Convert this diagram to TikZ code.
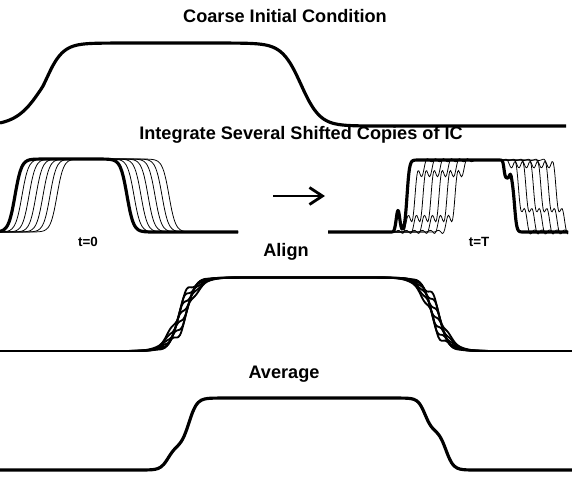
\documentclass[tikz,border=0pt]{standalone}
\usepackage{fontspec}
\setmainfont{Liberation Sans}
\usetikzlibrary{arrows.meta, calc, positioning}

\definecolor{ink}{HTML}{000000}

\tikzset{
    declare function={
        st(\uu)=0.5*(1+tanh(max(-4,min(4,\uu))));
        bump(\uu)=exp(-min(9,(\uu)*(\uu)));
    },
    bold curve/.style={draw=ink, line width=4.5pt, line join=round},
    thin curve/.style={draw=ink, line width=1.1pt},
    braid curve/.style={draw=ink, line width=2.6pt},
    title/.style={font=\fontsize{25.8}{30}\selectfont\bfseries, text=ink},
    stamp/.style={font=\fontsize{19}{23}\selectfont\bfseries, text=ink}
}

\begin{document}
\begin{tikzpicture}[x=0.5mm, y=-0.5mm]
    \useasboundingbox (0,0) rectangle (572,476);

    % coarse initial condition
    \node[title] (coarse title) at (285,16) {Coarse Initial Condition};
    \draw[bold curve] plot[smooth, domain=0:566, samples=120]
        (\x, {126 - 83*(st((\x-44)/(22.5-4.5*sign(\x-44))) - st((\x-301)/19))});

    % shifted copies, t=0
    \node[title] (integrate title) at (301,135) {Integrate Several Shifted Copies of IC};
    \foreach \k in {1,...,6}{
        \draw[thin curve] plot[smooth, domain=0:238, samples=120]
            (\x, {232 - 73*(st((\x-15-7*\k)/6.5) - st((\x-127-7*\k)/6.5))});
    }
    \draw[bold curve] plot[smooth, domain=0:238, samples=120]
        (\x, {232 - 73*(st((\x-15)/6.5) - st((\x-127)/6.5))});
    \node[stamp] (t0 label) at (88,242) {t=0};

    \coordinate (arrow tail) at (273,196);
    \coordinate (arrow head) at (325,196);
    \draw[draw=ink, line width=4pt, -{Straight Barb[length=6.5mm, width=8.5mm]}] (arrow tail) -- (arrow head);

    % shifted copies, t=T
    \foreach \k in {1,...,6}{
        \draw[thin curve] plot[smooth, domain=380:568, samples=190]
            (\x, {232 - 72*(st((\x-407-8*\k)/7) + 0.17*sin(36*(\x-407-8*\k))*bump((\x-407-8*\k)/11)
                 - st((\x-513-7.5*\k)/6) - 0.17*sin(36*(\x-513-7.5*\k)+90)*bump((\x-513-7.5*\k)/10))});
    }
    \coordinate (tT start) at (328,232);
    \draw[bold curve] (tT start) -- (386,232)
        plot[smooth, domain=386:530, samples=220]
        (\x, {232 - 72*(st((\x-407)/2.5) + 0.3*bump((\x-398)/2.5)
             - 0.25*st((\x-504)/1.2) + 0.07*bump((\x-510.5)/1.5) - 0.75*st((\x-514.5)/2.2))})
        -- (568,232);
    \node[stamp] (tT label) at (479,242) {t=T};

    % align
    \node[title] (align title) at (286,252) {Align};
    \coordinate (align left) at (0,351);
    \coordinate (align right) at (572,351);
    \draw[braid curve] (align left) -- (130,351);
    \draw[braid curve] (485,351) -- (align right);
    \foreach \k in {0,...,6}{
        \draw[braid curve] plot[smooth, domain=125:490, samples=220]
            (\x, {351 - 73.5*(st((\x-182-1.5*(\k-3))/15) + 0.08*sin(19*(\x-182)+51*\k)*bump((\x-182)/14)
                 - st((\x-435-1.5*(\k-3))/15) - 0.08*sin(20*(\x-435)+51*\k)*bump((\x-435)/13))});
    }

    % average
    \node[title] (average title) at (284,374) {Average};
    \draw[bold curve] plot[smooth, domain=0:572, samples=200]
        (\x, {470 - 72*(0.32*st((\x-168)/7.5) + 0.68*st((\x-189)/8)
             - 0.45*st((\x-425)/7) - 0.55*st((\x-446)/7.5))});
\end{tikzpicture}
\end{document}
